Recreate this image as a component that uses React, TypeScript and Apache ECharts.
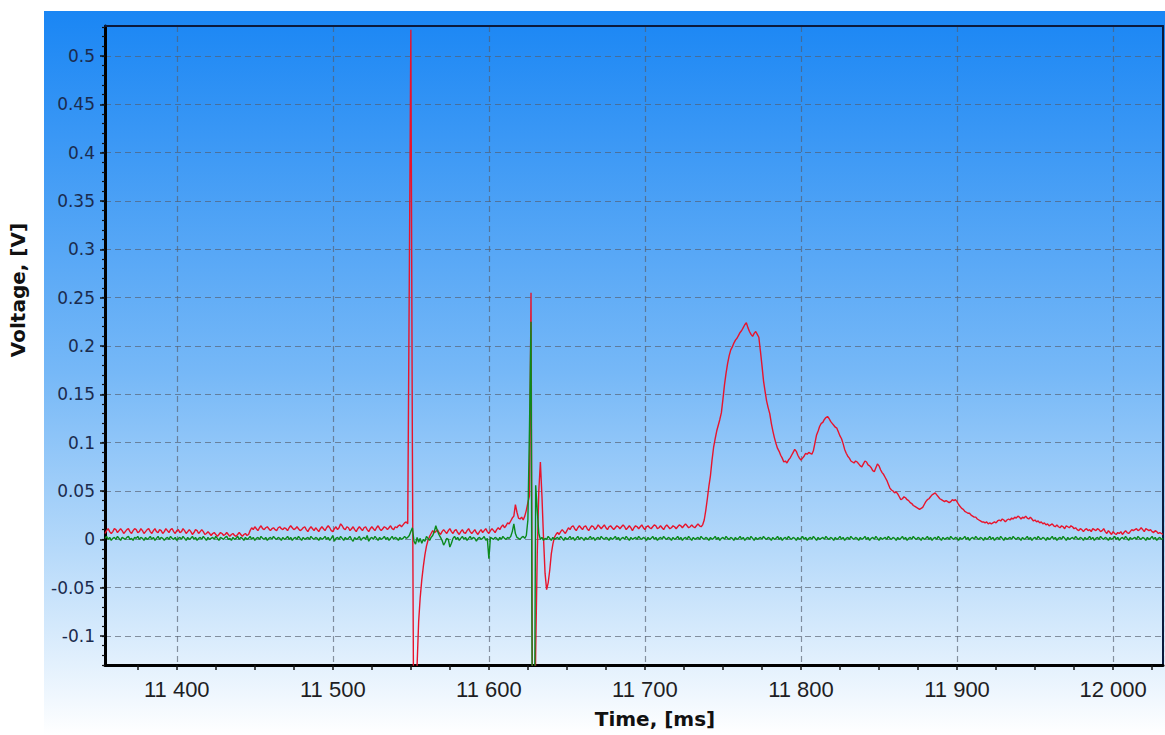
import React, { useEffect, useRef } from "react";
import * as echarts from "echarts";

// Sampling of both channels: one value per millisecond, starting at T_START_MS.
const T_START_MS = 11354;
const SAMPLE_STEP_MS = 1;

// Visible window of the recording.
const X_MIN = 11354;
const X_MAX = 12032;
const Y_MIN = -0.13;
const Y_MAX = 0.531;

// Tick spacing.
const X_LABEL_STEP = 100;
const X_TICK_STEP = 25;
const Y_LABEL_STEP = 0.05;
const Y_TICK_STEP = 0.01;

const X_TITLE = "Time, [ms]";
const Y_TITLE = "Voltage, [V]";

// Channel 1 (red), millivolts.
const redMv = [
  6, 9, 11, 8, 6, 8, 11, 10, 7, 9,
  11, 9, 6, 8, 10, 11, 8, 6, 9, 11,
  10, 7, 8, 11, 9, 6, 8, 10, 11, 8,
  6, 9, 11, 8, 7, 10, 9, 6, 8, 11,
  9, 7, 10, 11, 8, 6, 9, 10, 7, 8,
  11, 9, 6, 8, 10, 8, 5, 7, 10, 9,
  6, 8, 10, 8, 5, 6, 8, 6, 4, 6,
  7, 5, 3, 5, 7, 6, 4, 5, 7, 5,
  3, 5, 6, 4, 3, 5, 7, 5, 3, 5,
  6, 4, 5, 9, 12, 10, 13, 11, 9, 12,
  14, 11, 10, 12, 13, 11, 9, 11, 12, 10,
  9, 12, 13, 11, 10, 12, 11, 9, 12, 14,
  12, 10, 11, 13, 11, 9, 10, 12, 13, 10,
  8, 11, 13, 11, 9, 12, 10, 8, 11, 13,
  11, 9, 12, 14, 12, 9, 8, 11, 13, 10,
  12, 16, 14, 11, 10, 13, 12, 9, 11, 13,
  10, 8, 11, 13, 11, 9, 12, 13, 10, 8,
  11, 13, 11, 9, 12, 14, 11, 9, 11, 13,
  12, 10, 12, 14, 11, 10, 13, 12, 14, 15,
  13, 15, 17, 18, 16, 268, 527, 90, -260, -210,
  -130, -85, -60, -42, -28, -16, -7, -1, 3, 6,
  9, 7, 8, 10, 7, 5, 8, 10, 8, 6,
  9, 11, 8, 6, 9, 10, 7, 5, 8, 10,
  7, 6, 9, 11, 8, 6, 8, 10, 7, 5,
  8, 10, 7, 9, 11, 8, 6, 9, 11, 9,
  7, 10, 12, 10, 13, 15, 12, 14, 17, 16,
  19, 22, 24, 36, 28, 22, 21, 23, 20, 24,
  30, 38, 45, 255, -200, -260, -115, -15, 50, 80,
  45, 2, -35, -52, -45, -32, -15, -5, 2, 5,
  7, 5, 8, 10, 8, 6, 9, 12, 10, 13,
  14, 11, 9, 12, 14, 12, 10, 13, 14, 11,
  9, 12, 14, 13, 10, 12, 15, 13, 11, 13,
  15, 12, 10, 13, 14, 12, 10, 12, 14, 13,
  11, 13, 15, 13, 10, 12, 14, 12, 9, 12,
  14, 13, 11, 13, 15, 12, 10, 13, 14, 12,
  11, 13, 15, 14, 11, 12, 14, 12, 10, 13,
  15, 13, 11, 12, 14, 13, 11, 13, 15, 14,
  12, 14, 16, 14, 12, 13, 15, 13, 12, 14,
  16, 14, 13, 15, 20, 30, 42, 55, 66, 82,
  95, 104, 112, 118, 124, 131, 145, 160, 172, 182,
  190, 196, 199, 203, 206, 208, 211, 214, 216, 219,
  222, 224, 219, 215, 212, 210, 213, 215, 212, 209,
  195, 180, 164, 153, 143, 136, 130, 120, 112, 105,
  99, 94, 91, 87, 84, 80, 81, 79, 82, 84,
  87, 90, 93, 91, 87, 84, 82, 84, 86, 89,
  88, 90, 89, 88, 92, 100, 108, 112, 117, 120,
  121, 124, 126, 127, 125, 122, 120, 118, 116, 115,
  111, 107, 104, 99, 93, 89, 86, 84, 81, 80,
  79, 81, 80, 78, 76, 75, 78, 81, 80, 77,
  76, 74, 71, 70, 74, 78, 76, 72, 69, 67,
  64, 61, 57, 53, 51, 50, 48, 49, 47, 44,
  41, 42, 44, 43, 41, 40, 38, 37, 35, 34,
  33, 32, 31, 32, 33, 36, 39, 41, 42, 44,
  46, 47, 48, 46, 44, 42, 41, 40, 39, 40,
  39, 38, 39, 41, 40, 41, 39, 36, 34, 32,
  31, 29, 28, 27, 27, 25, 24, 23, 23, 21,
  20, 19, 18, 18, 17, 18, 16, 17, 16, 17,
  18, 17, 19, 20, 19, 21, 20, 18, 20, 21,
  20, 22, 21, 23, 22, 24, 23, 21, 23, 22,
  24, 22, 21, 23, 21, 19, 20, 18, 19, 17,
  18, 16, 17, 15, 16, 14, 15, 16, 14, 13,
  15, 13, 12, 14, 13, 11, 14, 13, 12, 14,
  13, 11, 12, 10, 9, 11, 10, 8, 10, 11,
  9, 10, 8, 11, 10, 9, 11, 10, 8, 9,
  11, 8, 6, 9, 7, 5, 8, 6, 5, 7,
  6, 8, 5, 7, 9, 7, 6, 8, 10, 9,
  10, 11, 9, 10, 12, 10, 8, 11, 10, 9,
  10, 8, 7, 9, 8, 6, 7, 6, 5,
];

// Channel 2 (green), millivolts.
const greenMv = [
  1, 3, 0, 2, -1, 1, 2, 0, 3, 1,
  -1, 2, 1, 0, 2, 3, 0, 1, -1, 2,
  1, 3, 0, 2, 1, -1, 2, 0, 1, 3,
  0, 2, -1, 1, 3, 0, 2, 1, -1, 1,
  2, 0, 3, 1, 0, 2, -1, 1, 2, 0,
  3, 1, -1, 2, 0, 1, 3, 0, 2, -1,
  1, 2, 0, 3, 1, -1, 2, 0, 1, 2,
  0, 3, 1, -1, 2, 1, 0, 2, 3, 0,
  1, -1, 2, 0, 1, 3, 0, 2, 1, -1,
  2, 0, 1, 3, 0, 2, -1, 1, 2, 0,
  3, 1, 0, 2, -1, 1, 2, 0, 3, 1,
  0, 2, 1, -1, 2, 0, 1, 3, 0, 2,
  -1, 1, 2, 0, 3, 1, -1, 2, 0, 1,
  2, 0, 3, 1, 0, 2, 1, -1, 2, 0,
  1, 3, 0, 2, -1, 1, 4, -2, 1, 2,
  0, 3, 1, -1, 2, 0, 1, 3, 0, -2,
  2, 0, 1, 3, -1, 1, 2, 0, 4, -2,
  1, 2, 0, 3, 1, -1, 2, 0, 1, 3,
  0, 2, -1, 1, 3, 0, 2, 1, -1, 2,
  0, 1, 3, 1, 2, 4, 8, 12, -2, -5,
  2, -3, 1, -4, 0, -2, 3, 1, -1, 2,
  4, 8, 14, 9, 5, 2, -1, -6, -3, 1,
  0, -8, -4, 1, 3, 0, 2, -1, 1, 3,
  0, 2, -1, 1, 3, 0, 2, 1, -2, 1,
  2, 0, 1, 3, -1, 1, -20, 2, 1, 0,
  2, 1, -1, 2, 0, 3, 1, 0, 2, 1,
  3, 8, 16, 6, 2, 1, 0, 2, 3, 1,
  4, 20, 113, 225, -300, -280, 56, 30, 6, 0,
  2, -1, 1, 0, 3, 1, -1, 2, 0, 1,
  2, 0, 3, 1, -1, 2, 0, 1, 3, 0,
  2, -1, 1, 3, 0, 2, 1, -1, 2, 0,
  1, 3, 0, 2, -1, 1, 2, 0, 3, 1,
  0, 2, 1, -1, 2, 0, 1, 3, 0, 2,
  -1, 1, 2, 0, 3, 1, -1, 2, 0, 1,
  2, 0, 3, 1, 0, 2, 1, -1, 2, 0,
  1, 3, 0, 2, -1, 1, 2, 0, 3, 1,
  0, 2, 1, -1, 2, 0, 1, 3, 0, 2,
  -1, 1, 2, 0, 3, 1, -1, 2, 0, 1,
  2, 0, 3, 1, 0, 2, 1, -1, 2, 0,
  1, 3, 0, 2, -1, 1, 2, 0, 3, 1,
  0, 2, 1, -1, 2, 0, 1, 3, 0, 2,
  -1, 1, 2, 0, 3, 1, -1, 2, 0, 1,
  2, 0, 3, 1, 0, 2, 1, -1, 2, 0,
  1, 3, 0, 2, -1, 1, 2, 0, 3, 1,
  0, 2, 1, -1, 2, 0, 1, 3, 0, 2,
  -1, 1, 2, 0, 3, 1, -1, 2, 0, 1,
  2, 0, 3, 1, 0, 2, 1, -1, 2, 0,
  1, 3, 0, 2, -1, 1, 2, 0, 3, 1,
  0, 2, 1, -1, 2, 0, 1, 3, 0, 2,
  -1, 1, 2, 0, 3, 1, -1, 2, 0, 1,
  2, 0, 3, 1, 0, 2, 1, -1, 2, 0,
  1, 3, 0, 2, -1, 1, 2, 0, 3, 1,
  0, 2, 1, -1, 2, 0, 1, 3, 0, 2,
  -1, 1, 2, 0, 3, 1, -1, 2, 0, 1,
  2, 0, 3, 1, 0, 2, 1, -1, 2, 0,
  1, 3, 0, 2, -1, 1, 2, 0, 3, 1,
  0, 2, 1, -1, 2, 0, 1, 3, 0, 2,
  -1, 1, 2, 0, 3, 1, -1, 2, 0, 1,
  2, 0, 3, 1, 0, 2, 1, -1, 2, 0,
  1, 3, 0, 2, -1, 1, 2, 0, 3, 1,
  0, 2, 1, -1, 2, 0, 1, 3, 0, 2,
  -1, 1, 2, 0, 3, 1, -1, 2, 0, 1,
  2, 0, 3, 1, 0, 2, 1, -1, 2, 0,
  1, 3, 0, 2, -1, 1, 2, 0, 3, 1,
  0, 2, 1, -1, 2, 0, 1, 3, 0, 2,
  -1, 1, 2, 0, 3, 1, -1, 2, 0, 1,
  2, 0, 3, 1, 0, 2, 1, -1, 2, 0,
  1, 3, 0, 2, -1, 1, 2, 0, 1,
];

const toPoints = (mv: number[]) =>
  mv.map((v, i) => [T_START_MS + i * SAMPLE_STEP_MS, v / 1000]);

// Multiples of `step` inside [from, to].
function multiplesIn(from: number, to: number, step: number): number[] {
  const out: number[] = [];
  for (let k = Math.ceil(from / step - 1e-9); k * step <= to + 1e-9; k++) {
    out.push(+(k * step).toFixed(6));
  }
  return out;
}

const xTickValues = multiplesIn(X_MIN, X_MAX, X_TICK_STEP);
const yTickValues = multiplesIn(Y_MIN, Y_MAX, Y_TICK_STEP);

const withSpaces = (v: number) =>
  String(Math.round(v)).replace(/\B(?=(\d{3})+(?!\d))/g, " ");

const gridLine = {
  show: true,
  lineStyle: { color: "rgba(85, 92, 108, 0.65)", width: 1.2, type: [6, 4] },
};

function buildOption() {
  return {
    animation: false,
    graphic: {
      elements: [
        {
          type: "rect",
          z: -100,
          silent: true,
          shape: { x: 44, y: 11, width: 1121, height: 724 },
          style: {
            fill: new echarts.graphic.LinearGradient(0, 0, 0, 1, [
              { offset: 0, color: "#1a86f4" },
              { offset: 0.5, color: "#76b8f7" },
              { offset: 0.75, color: "#b7dafa" },
              { offset: 1, color: "#ffffff" },
            ]),
          },
        },
        {
          type: "text",
          x: 18,
          y: 290,
          rotation: Math.PI / 2,
          silent: true,
          style: {
            text: Y_TITLE,
            font: 'bold 20px "DejaVu Sans"',
            fill: "#111111",
            align: "center",
            verticalAlign: "middle",
          },
        },
        {
          type: "text",
          x: 655,
          y: 719,
          silent: true,
          style: {
            text: X_TITLE,
            font: 'bold 20px "DejaVu Sans"',
            fill: "#111111",
            align: "center",
            verticalAlign: "middle",
          },
        },
      ],
    },
    grid: { left: 105, top: 26, right: 2, bottom: 70 },
    xAxis: [
      {
        type: "value",
        position: "bottom",
        min: X_MIN,
        max: X_MAX,
        splitNumber: 7,
        minInterval: X_LABEL_STEP,
        maxInterval: X_LABEL_STEP,
        axisLine: { show: true, onZero: false, lineStyle: { color: "#000000", width: 3 } },
        axisTick: { show: false },
        axisLabel: {
          show: true,
          margin: 13,
          showMinLabel: false,
          showMaxLabel: false,
          color: "#1e1e24",
          fontFamily: '"Liberation Sans", Arial, sans-serif',
          fontSize: 22,
          formatter: (v: number) => withSpaces(v),
        },
        splitLine: gridLine,
      },
      {
        type: "value",
        position: "bottom",
        min: X_MIN,
        max: X_MAX,
        axisLine: { show: false, onZero: false },
        axisTick: {
          show: true,
          inside: false,
          length: 5,
          customValues: xTickValues,
          lineStyle: { color: "#111111", width: 1.5 },
        },
        axisLabel: { show: false },
        splitLine: { show: false },
      },
      {
        type: "value",
        position: "top",
        min: X_MIN,
        max: X_MAX,
        axisLine: { show: true, onZero: false, lineStyle: { color: "#0b1a3c", width: 2 } },
        axisTick: { show: false },
        axisLabel: { show: false },
        splitLine: { show: false },
      },
    ],
    yAxis: [
      {
        type: "value",
        position: "left",
        min: Y_MIN,
        max: Y_MAX,
        splitNumber: 13,
        minInterval: Y_LABEL_STEP,
        maxInterval: Y_LABEL_STEP,
        axisLine: { show: true, onZero: false, lineStyle: { color: "#000000", width: 3 } },
        axisTick: { show: true, inside: false, length: 5, lineStyle: { color: "#111111", width: 1.5 } },
        axisLabel: {
          show: true,
          margin: 10,
          showMinLabel: false,
          showMaxLabel: false,
          color: "#1b2b4e",
          fontFamily: '"DejaVu Sans", Verdana, sans-serif',
          fontSize: 17,
          formatter: (v: number) => String(+v.toFixed(2)),
        },
        splitLine: gridLine,
      },
      {
        type: "value",
        position: "left",
        min: Y_MIN,
        max: Y_MAX,
        axisLine: { show: false, onZero: false },
        axisTick: {
          show: true,
          inside: false,
          length: 3,
          customValues: yTickValues,
          lineStyle: { color: "#111111", width: 1.2 },
        },
        axisLabel: { show: false },
        splitLine: { show: false },
      },
      {
        type: "value",
        position: "right",
        min: Y_MIN,
        max: Y_MAX,
        axisLine: { show: true, onZero: false, lineStyle: { color: "#0b1a3c", width: 2 } },
        axisTick: { show: false },
        axisLabel: { show: false },
        splitLine: { show: false },
      },
    ],
    series: [
      {
        name: "Channel 1",
        type: "line",
        xAxisIndex: 0,
        yAxisIndex: 0,
        data: toPoints(redMv),
        showSymbol: false,
        symbol: "none",
        clip: true,
        z: 3,
        lineStyle: { color: "#e8142c", width: 1.4 },
      },
      {
        name: "Channel 2",
        type: "line",
        xAxisIndex: 0,
        yAxisIndex: 0,
        data: toPoints(greenMv),
        showSymbol: false,
        symbol: "none",
        clip: true,
        z: 4,
        lineStyle: { color: "#0b8a1c", width: 1.4 },
      },
    ],
  };
}

export default function App() {
  const ref = useRef<HTMLDivElement | null>(null);

  useEffect(() => {
    if (!ref.current) return;
    const chart = echarts.init(ref.current, undefined, { renderer: "svg" });
    chart.setOption(buildOption() as any);
    return () => chart.dispose();
  }, []);

  return (
    <div
      ref={ref}
      style={{
        position: "fixed",
        left: 0,
        top: 0,
        width: 1165,
        height: 735,
        background: "#ffffff",
      }}
    />
  );
}
